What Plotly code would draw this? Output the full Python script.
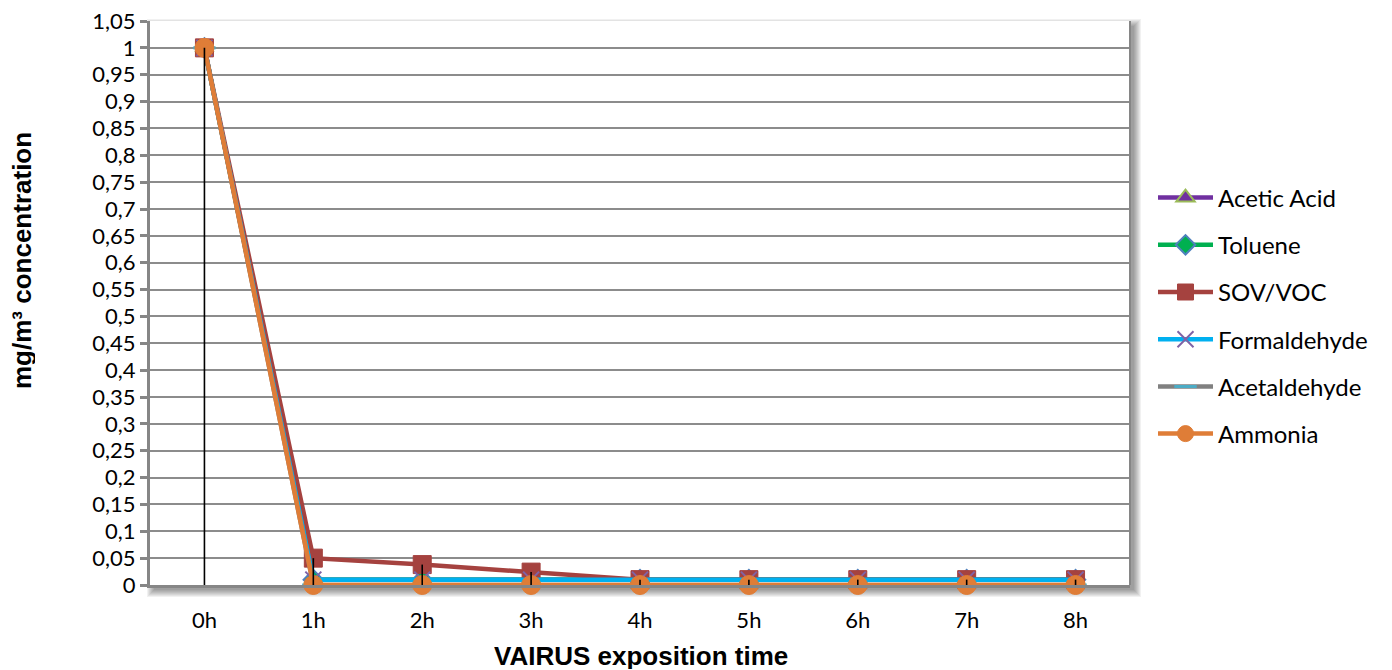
import plotly.graph_objects as go

# ---------------- data ----------------
CATEGORIES = ["0h", "1h", "2h", "3h", "4h", "5h", "6h", "7h", "8h"]
ACETIC_ACID = [1, 0.01, 0.01, 0.01, 0.01, 0.01, 0.01, 0.01, 0.01]
TOLUENE = [1, 0.01, 0.01, 0.01, 0.01, 0.01, 0.01, 0.01, 0.01]
SOV_VOC = [1, 0.05, 0.038, 0.024, 0.01, 0.01, 0.01, 0.01, 0.01]
FORMALDEHYDE = [1, 0.01, 0.01, 0.01, 0.01, 0.01, 0.01, 0.01, 0.01]
ACETALDEHYDE = [1, 0, 0, 0, 0, 0, 0, 0, 0]
AMMONIA = [1, 0, 0, 0, 0, 0, 0, 0, 0]
Y_TICK_VALUES = [0, 0.05, 0.1, 0.15, 0.2, 0.25, 0.3, 0.35, 0.4, 0.45, 0.5,
                 0.55, 0.6, 0.65, 0.7, 0.75, 0.8, 0.85, 0.9, 0.95, 1, 1.05]
Y_TICK_LABELS = ["0", "0,05", "0,1", "0,15", "0,2", "0,25", "0,3", "0,35", "0,4",
                 "0,45", "0,5", "0,55", "0,6", "0,65", "0,7", "0,75", "0,8",
                 "0,85", "0,9", "0,95", "1", "1,05"]
X_TITLE = "VAIRUS exposition time"
Y_TITLE = "mg/m³ concentration"

# ---------------- layout geometry (page px) ----------------
PAGE_W, PAGE_H = 1392, 670
OFF = 8                      # default body margin of the html page
W, H = PAGE_W - OFF, PAGE_H - OFF
L, R, T, B = 150, 1130, 21, 585   # plot area in page pixels
PW, PH = R - L, B - T

def px_x(X):
    return (X - L) / PW

def px_y(Y):
    return (B - Y) / PH

TICK_FONT = dict(family="Lato", size=22, color="#000000")
LEGEND_FONT = dict(family="Lato", size=24, color="#000000")
TITLE_FONT = dict(family="Liberation Sans", size=26, color="#000000")

series = [
    ("Acetic Acid", ACETIC_ACID, "#7030A0",
     dict(symbol="triangle-up", size=16, color="#7030A0", line=dict(color="#9BBB59", width=2))),
    ("Toluene", TOLUENE, "#00B050",
     dict(symbol="diamond", size=15, color="#00B050", line=dict(color="#4F81BD", width=2))),
    ("SOV/VOC", SOV_VOC, "#A5423F",
     dict(symbol="square", size=18, color="#A5423F", line=dict(color="#A5423F", width=1))),
    ("Formaldehyde", FORMALDEHYDE, "#00B0F0",
     dict(symbol="x-thin", size=16, color="#7F63A6", line=dict(color="#7F63A6", width=2))),
    ("Acetaldehyde", ACETALDEHYDE, "#808080",
     dict(symbol="line-ew", size=16, color="#4BACC6", line=dict(color="#4BACC6", width=3))),
    ("Ammonia", AMMONIA, "#DF7D37",
     dict(symbol="circle", size=19, color="#DF7D37", line=dict(color="#DF7D37", width=1))),
]

fig = go.Figure()
for i, (name, vals, col, mk) in enumerate(series):
    fig.add_trace(go.Scatter(
        x=CATEGORIES, y=vals, name=name, mode="lines+markers",
        line=dict(color=col, width=4.5), marker=mk, cliponaxis=False,
        legendgroup=f"g{i}",
    ))

# drop lines from the highest value of each category down to the axis
all_vals = [s[1] for s in series]
drop_x, drop_y = [], []
for j, c in enumerate(CATEGORIES):
    top = max(v[j] for v in all_vals)
    drop_x += [c, c, None]
    drop_y += [top, 0, None]
fig.add_trace(go.Scatter(x=drop_x, y=drop_y, mode="lines", showlegend=False,
                         hoverinfo="skip", cliponaxis=False,
                         line=dict(color="#000000", width=1.6)))

# shadow behind the plot area
shapes = []
N = 8
dx, dy = 4, 5
for i in range(N):
    shapes.append(dict(
        type="rect", xref="paper", yref="paper", layer="below",
        x0=px_x(L + dx - i), x1=px_x(R + dx + i),
        y0=px_y(B + dy + i), y1=px_y(T + dy - i),
        line=dict(width=0), fillcolor="rgba(0,0,0,0.055)",
    ))
shapes.append(dict(type="rect", xref="paper", yref="paper", layer="below",
                   x0=0, x1=1, y0=0, y1=1, line=dict(width=0), fillcolor="#FFFFFF"))
# right border of the plot area
shapes.append(dict(type="line", xref="paper", yref="paper", layer="above",
                   x0=1, x1=1, y0=0, y1=1, line=dict(color="#868686", width=2)))

fig.update_layout(
    width=W, height=H,
    margin=dict(l=L - OFF, r=PAGE_W - R, t=T - OFF, b=PAGE_H - B, autoexpand=False),
    paper_bgcolor="#FFFFFF", plot_bgcolor="#FFFFFF",
    shapes=shapes,
    showlegend=True,
    legend=dict(
        x=px_x(1153), y=px_y(316), xanchor="left", yanchor="middle",
        font=LEGEND_FONT, traceorder="grouped", tracegroupgap=13,
        itemwidth=55, bgcolor="rgba(0,0,0,0)",
    ),
    annotations=[
        dict(text=f"<b>{X_TITLE}</b>", xref="paper", yref="paper",
             x=px_x(641), y=px_y(656), xanchor="center", yanchor="middle",
             height=26, borderpad=0,
             showarrow=False, font=TITLE_FONT),
        dict(text=f"<b>{Y_TITLE}</b>", xref="paper", yref="paper",
             x=px_x(22), y=px_y(261), xanchor="center", yanchor="middle",
             height=26, borderpad=0,
             textangle=-90, showarrow=False, font=TITLE_FONT),
    ],
)

fig.update_xaxes(
    type="category", categoryorder="array", categoryarray=CATEGORIES,
    range=[-0.5, len(CATEGORIES) - 0.5],
    showgrid=False, zeroline=False,
    showline=True, linecolor="#868686", linewidth=3,
    ticks="outside", ticklen=14, tickcolor="rgba(0,0,0,0)",
    tickfont=TICK_FONT,
)
fig.update_yaxes(
    range=[0, 1.05], tickvals=Y_TICK_VALUES, ticktext=Y_TICK_LABELS,
    showgrid=True, gridcolor="#8C8C8C", gridwidth=1.5,
    zeroline=False,
    showline=True, linecolor="#868686", linewidth=3,
    ticks="outside", ticklen=7, tickwidth=2.5, tickcolor="#868686",
    tickfont=TICK_FONT, ticklabeloverflow="allow",
)

fig.write_html("out.html")
